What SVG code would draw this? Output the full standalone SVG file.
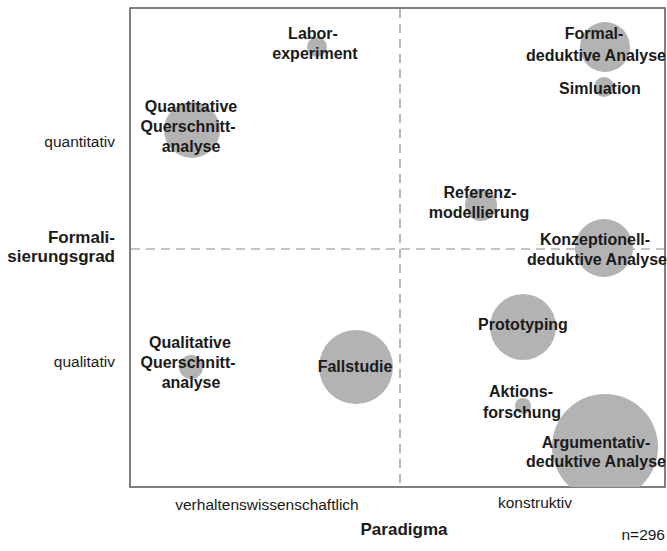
<svg xmlns="http://www.w3.org/2000/svg" width="667" height="551" viewBox="0 0 667 551">
<style>
.b{fill:#b3b3b3}
.l{font-family:"Liberation Sans",Arial,sans-serif;font-weight:bold;font-size:16px;fill:#1a1a1a;text-anchor:middle}
.r{font-family:"Liberation Sans",Arial,sans-serif;font-size:15.5px;fill:#1a1a1a}
.t{font-family:"Liberation Sans",Arial,sans-serif;font-weight:bold;font-size:17px;fill:#1a1a1a}
.d{stroke:#8a8a8a;stroke-width:1.2;stroke-dasharray:9,6;fill:none}
</style>
<defs>
<clipPath id="plot"><rect x="130" y="8" width="535" height="479"/></clipPath>
</defs>
<rect width="667" height="551" fill="#fff"/>
<g id="axes">
<line class="d" x1="400" y1="9" x2="400" y2="486"/>
<line class="d" x1="131" y1="249" x2="664" y2="249"/>
<rect x="130" y="8" width="535" height="479" fill="none" stroke="#555" stroke-width="1.5"/>
</g>
<g id="connectors"/>
<g id="n-labor"><circle class="b" cx="317" cy="47" r="10"/><text class="l"><tspan x="313" y="39">Labor-</tspan><tspan x="315" y="59">experiment</tspan></text></g>
<g id="n-quant"><circle class="b" cx="192" cy="130" r="28"/><text class="l"><tspan x="191" y="112">Quantitative</tspan><tspan x="188" y="132">Querschnitt-</tspan><tspan x="191" y="152">analyse</tspan></text></g>
<g id="n-formal"><circle class="b" cx="605" cy="47" r="25"/><text class="l"><tspan x="594" y="39">Formal-</tspan><tspan x="596" y="61">deduktive Analyse</tspan></text></g>
<g id="n-sim"><circle class="b" cx="604" cy="87" r="10"/><text class="l" x="600" y="94">Simluation</text></g>
<g id="n-ref"><circle class="b" cx="481" cy="205" r="16"/><text class="l"><tspan x="480" y="198">Referenz-</tspan><tspan x="479" y="218">modellierung</tspan></text></g>
<g id="n-konz"><circle class="b" cx="604" cy="248" r="29"/><text class="l"><tspan x="595" y="245">Konzeptionell-</tspan><tspan x="597" y="265">deduktive Analyse</tspan></text></g>
<g id="n-proto"><circle class="b" cx="523" cy="327" r="33"/><text class="l" x="523" y="330">Prototyping</text></g>
<g id="n-fall"><circle class="b" cx="356" cy="367" r="37"/><text class="l" x="355" y="372">Fallstudie</text></g>
<g id="n-arg"><circle class="b" cx="605" cy="447" r="53" clip-path="url(#plot)"/><text class="l"><tspan x="596" y="448">Argumentativ-</tspan><tspan x="596" y="467">deduktive Analyse</tspan></text></g>
<g id="n-akt"><circle class="b" cx="523" cy="406" r="8"/><text class="l"><tspan x="521" y="397">Aktions-</tspan><tspan x="522" y="418">forschung</tspan></text></g>
<g id="n-qual"><circle class="b" cx="191" cy="367" r="12"/><text class="l"><tspan x="190" y="348">Qualitative</tspan><tspan x="188" y="368">Querschnitt-</tspan><tspan x="191" y="388">analyse</tspan></text></g>
<g id="labels">
<text class="r" x="115" y="147" text-anchor="end">quantitativ</text>
<text class="r" x="115" y="367" text-anchor="end">qualitativ</text>
<text class="t" x="115" y="243" text-anchor="end">Formali-</text>
<text class="t" x="115" y="262" text-anchor="end">sierungsgrad</text>
<text class="r" x="267" y="510" text-anchor="middle">verhaltenswissenschaftlich</text>
<text class="r" x="535" y="508" text-anchor="middle">konstruktiv</text>
<text class="t" x="404" y="535" text-anchor="middle">Paradigma</text>
<text class="r" x="665" y="540" text-anchor="end">n=296</text>
</g>
</svg>
